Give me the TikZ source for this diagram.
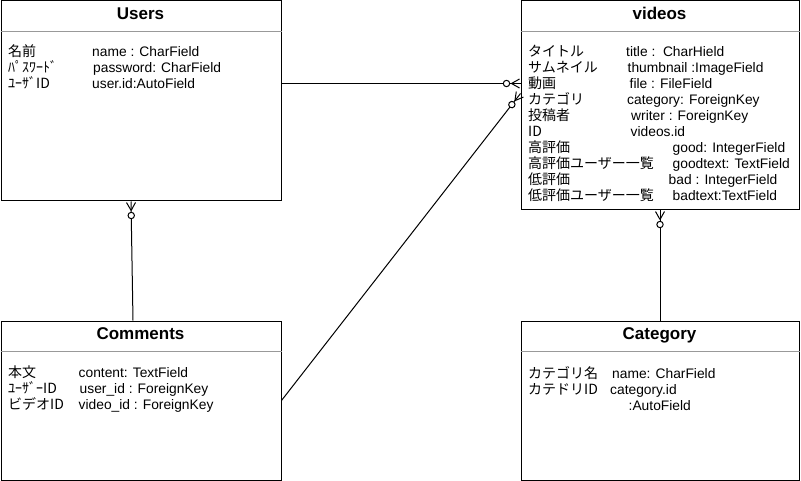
\documentclass[tikz,border=0pt]{standalone}
\usepackage{fontspec}
\setmainfont{Liberation Sans}
\newfontfamily\jp{Noto Sans CJK JP}
\usetikzlibrary{decorations.markings}
\begin{document}
\begin{tikzpicture}[x=1pt,y=-1pt,
  entity/.style={draw, line width=1pt, inner sep=0pt, anchor=north west},
  ttl/.style={font=\fontsize{17}{20}\selectfont\bfseries, anchor=base, inner sep=0pt},
  fld/.style={font=\fontsize{13.8}{16}\selectfont, anchor=base west, inner sep=0pt},
  jpf/.style={font=\jp\fontsize{14}{16}\selectfont, anchor=base west, inner sep=0pt},
  hsep/.style={draw=black!40, line width=1pt},
  conn/.style={line width=1pt},
  zmany/.style={postaction={decorate}, decoration={markings, mark=at position 1 with {
      \draw[line width=1pt] (-9,0) -- (-1,4.5) (-9,0) -- (-1,-4.5);
      \draw[line width=1pt, fill=white] (-14,0) circle (3.2pt);}}}
]
\useasboundingbox (0,0) rectangle (801,481);

% entity boxes
\node[entity, minimum width=280pt, minimum height=200pt] (users) at (0.5,0.5) {};
\node[entity, minimum width=278pt, minimum height=209pt] (videos) at (520.5,0.5) {};
\node[entity, minimum width=280pt, minimum height=159pt] (comments) at (0.5,320.5) {};
\node[entity, minimum width=278pt, minimum height=159pt] (category) at (520.5,320.5) {};

% header separators
\draw[hsep] ([yshift=-31pt]users.north west) -- ([yshift=-31pt]users.north east);
\draw[hsep] ([yshift=-31pt]videos.north west) -- ([yshift=-31pt]videos.north east);
\draw[hsep] ([yshift=-31pt]comments.north west) -- ([yshift=-31pt]comments.north east);
\draw[hsep] ([yshift=-31pt]category.north west) -- ([yshift=-31pt]category.north east);

% titles
\node[ttl] (tusers) at (140.5,19.5) {Users};
\node[ttl] (tvideos) at (659.5,19.5) {videos};
\node[ttl] (tcomments) at (140.5,339.5) {Comments};
\node[ttl] (tcategory) at (659.5,339.5) {Category};

% Users fields
\node[jpf] (u1a) at (8,57) {名前};
\node[fld] (u1b) at (92,57) {name : CharField};
\node[jpf] (u2a) at (8,73) {ﾊﾟｽﾜｰﾄﾞ};
\node[fld] (u2b) at (93,73) {password: CharField};
\node[jpf] (u3a) at (8,89) {ﾕｰｻﾞID};
\node[fld] (u3b) at (92,89) {user.id:AutoField};

% videos fields
\node[jpf] (v1a) at (528,57) {タイトル};
\node[fld] (v1b) at (626,57) {title :\ \ CharHield};
\node[jpf] (v2a) at (528,73) {サムネイル};
\node[fld] (v2b) at (627.5,73) {thumbnail :ImageField};
\node[jpf] (v3a) at (528,89) {動画};
\node[fld] (v3b) at (629.5,89) {file : FileField};
\node[jpf] (v4a) at (528,105) {カテゴリ};
\node[fld] (v4b) at (627,105) {category: ForeignKey};
\node[jpf] (v5a) at (528,121) {投稿者};
\node[fld] (v5b) at (631,121) {writer : ForeignKey};
\node[jpf] (v6a) at (528,137) {ID};
\node[fld] (v6b) at (630.5,137) {videos.id};
\node[jpf] (v7a) at (528,153) {高評価};
\node[fld] (v7b) at (672.5,153) {good: IntegerField};
\node[jpf] (v8a) at (528,169) {高評価ユーザー一覧};
\node[fld] (v8b) at (672.5,169) {goodtext: TextField};
\node[jpf] (v9a) at (528,185) {低評価};
\node[fld] (v9b) at (668.5,185) {bad : IntegerField};
\node[jpf] (v10a) at (528,201) {低評価ユーザー一覧};
\node[fld] (v10b) at (672.5,201) {badtext:TextField};

% Comments fields
\node[jpf] (c1a) at (8,377.5) {本文};
\node[fld] (c1b) at (78.5,377.5) {content: TextField};
\node[jpf] (c2a) at (8,393.5) {ﾕｰｻﾞｰID};
\node[fld] (c2b) at (79.5,393.5) {user\_id : ForeignKey};
\node[jpf] (c3a) at (8,409.5) {ビデオID};
\node[fld] (c3b) at (78.5,409.5) {video\_id : ForeignKey};

% Category fields
\node[jpf] (k1a) at (528,378) {カテゴリ名};
\node[fld] (k1b) at (612,378) {name: CharField};
\node[jpf] (k2a) at (528,394) {カテドリID};
\node[fld] (k2b) at (610,394) {category.id};
\node[fld] (k3b) at (628.5,410) {:AutoField};

% connectors
\draw[conn, zmany] ([yshift=-83pt]users.north east) -- ([yshift=-83pt]videos.north west);
\draw[conn, zmany] (comments.east) -- ([yshift=-93pt]videos.north west);
\draw[conn, zmany] ([xshift=-8pt]comments.north) -- ([xshift=-10pt]users.south);
\draw[conn, zmany] (category.north) -- (videos.south);
\end{tikzpicture}
\end{document}
